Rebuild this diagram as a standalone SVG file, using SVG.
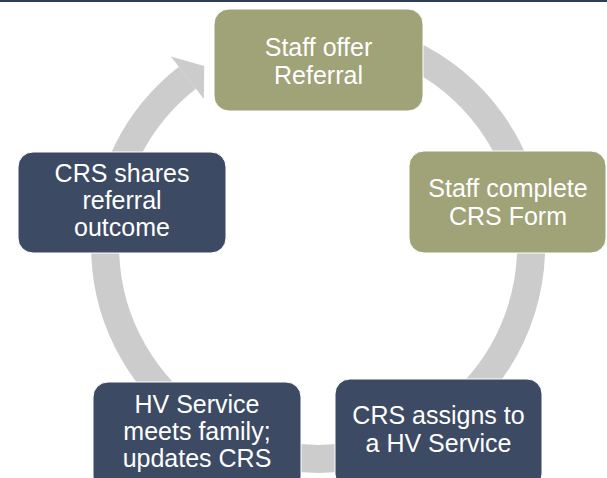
<svg xmlns="http://www.w3.org/2000/svg" width="607" height="478" viewBox="0 0 607 478">
<style>
.olive{fill:#a0a277;stroke:#ffffff;stroke-width:1}
.navy{fill:#3c4a64;stroke:#ffffff;stroke-width:1}
.t{font-family:"Liberation Sans",Arial,sans-serif;font-size:25px;fill:#ffffff;text-anchor:middle}
.ring{fill:none;stroke:#cccccc;stroke-width:28}
</style>
<rect x="0" y="0" width="607" height="478" fill="#ffffff"/>
<rect x="0" y="0" width="607" height="2" fill="#2f3e58"/>
<g id="connectors">
<path class="ring" d="M318 33 A213 213 0 1 1 187.4 77.8"/>
<polygon points="170.8,56.4 204.2,66 203.9,99.1" fill="#cccccc"/>
</g>
<g id="n1">
<rect class="olive" x="214" y="9" width="209" height="102" rx="15"/>
<text class="t" x="318.5" y="56">Staff offer</text>
<text class="t" x="318.5" y="84">Referral</text>
</g>
<g id="n2">
<rect class="olive" x="409" y="151" width="197" height="102" rx="15"/>
<text class="t" x="508" y="197">Staff complete</text>
<text class="t" x="508" y="225">CRS Form</text>
</g>
<g id="n3">
<rect class="navy" x="335" y="379" width="207" height="110" rx="15"/>
<text class="t" x="438.5" y="424">CRS assigns to</text>
<text class="t" x="438.5" y="452">a HV Service</text>
</g>
<g id="n4">
<rect class="navy" x="93" y="382" width="208" height="110" rx="15"/>
<text class="t" x="197" y="413">HV Service</text>
<text class="t" x="197" y="440">meets family;</text>
<text class="t" x="197" y="467">updates CRS</text>
</g>
<g id="n5">
<rect class="navy" x="18" y="152" width="208" height="101" rx="15"/>
<text class="t" x="122" y="182">CRS shares</text>
<text class="t" x="122" y="209">referral</text>
<text class="t" x="122" y="236">outcome</text>
</g>
</svg>
